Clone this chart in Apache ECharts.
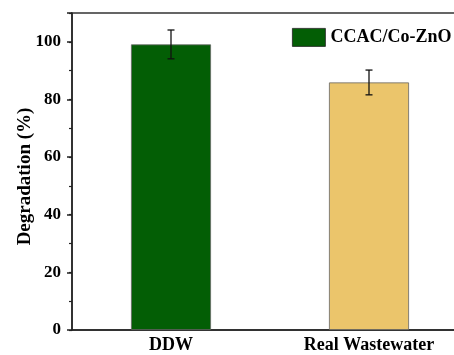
<!DOCTYPE html>
<html>
<head>
<meta charset="utf-8">
<script src="https://cdn.jsdelivr.net/npm/echarts@6/dist/echarts.min.js"></script>
<style>html,body{margin:0;padding:0;background:#fff}#c{width:454px;height:355px}</style>
</head>
<body>
<div id="c"></div>
<script>
var categories = ['DDW', 'Real Wastewater'];
var values = [99.1, 85.9];
var errors = [5.0, 4.3];
var barColors = ['#035E05', '#EBC56B'];
var seriesName = 'CCAC/Co-ZnO';
var yTicks = [0, 20, 40, 60, 80, 100];

var font = '"Liberation Serif","Times New Roman",serif';
var chart = echarts.init(document.getElementById('c'), null, {renderer: 'canvas'});

var errData = categories.map(function (c, i) { return [i, values[i] - errors[i], values[i] + errors[i]]; });

chart.setOption({
  animation: false,
  backgroundColor: '#fff',
  grid: {left: 72, top: 13, width: 396, bottom: 25, show: true, borderColor: '#333', borderWidth: 1.5,
    containLabel: false, outerBoundsMode: 'none'},
  legend: {
    show: true, left: 292, top: 28, padding: 0,
    itemWidth: 33, itemHeight: 18, itemGap: 4,
    textStyle: {fontFamily: font, fontWeight: 'bold', fontSize: 18, color: '#000'},
    data: [{name: seriesName, icon: 'rect', itemStyle: {color: barColors[0], borderColor: '#222', borderWidth: 0.8}}]
  },
  xAxis: {
    type: 'category', data: categories,
    axisLine: {lineStyle: {color: '#222', width: 1.5}},
    axisTick: {show: false},
    axisLabel: {fontFamily: font, fontWeight: 'bold', fontSize: 18, color: '#000', margin: 6}
  },
  yAxis: [{
    type: 'value', min: 0, max: 110, interval: 20,
    name: 'Degradation (%)', nameLocation: 'middle', nameGap: 37, nameMoveOverlap: false,
    nameTextStyle: {fontFamily: font, fontWeight: 'bold', fontSize: 19, color: '#000', padding: [0, 10, 0, 0]},
    axisLine: {show: true, lineStyle: {color: '#222', width: 1.5}},
    axisTick: {show: true, length: 5, lineStyle: {color: '#222', width: 1.5}},
    axisLabel: {fontFamily: font, fontWeight: 'bold', fontSize: 17, color: '#000', margin: 11,
      formatter: function (v) { return yTicks.indexOf(v) >= 0 ? String(v) : ''; }},
    splitLine: {show: false}
  }, {
    type: 'value', min: 0, max: 110, interval: 10, position: 'left',
    axisLine: {show: false},
    axisTick: {show: true, length: 3, lineStyle: {color: '#222', width: 1.2}},
    axisLabel: {show: false},
    splitLine: {show: false}
  }],
  series: [{
    name: seriesName, type: 'bar', barWidth: 80,
    data: values.map(function (v, i) { return {value: v, itemStyle: {color: barColors[i], borderColor: '#666', borderWidth: 0.8}}; })
  }, {
    type: 'custom', silent: true, z: 5,
    data: errData,
    renderItem: function (params, api) {
      var x = api.coord([api.value(0), 0])[0];
      var lo = api.coord([api.value(0), api.value(1)])[1];
      var hi = api.coord([api.value(0), api.value(2)])[1];
      var w = 3.5;
      var st = {stroke: '#111', lineWidth: 1.3};
      return {type: 'group', children: [
        {type: 'line', shape: {x1: x, y1: lo, x2: x, y2: hi}, style: st},
        {type: 'line', shape: {x1: x - w, y1: lo, x2: x + w, y2: lo}, style: st},
        {type: 'line', shape: {x1: x - w, y1: hi, x2: x + w, y2: hi}, style: st}
      ]};
    }
  }]
});
</script>
</body>
</html>
